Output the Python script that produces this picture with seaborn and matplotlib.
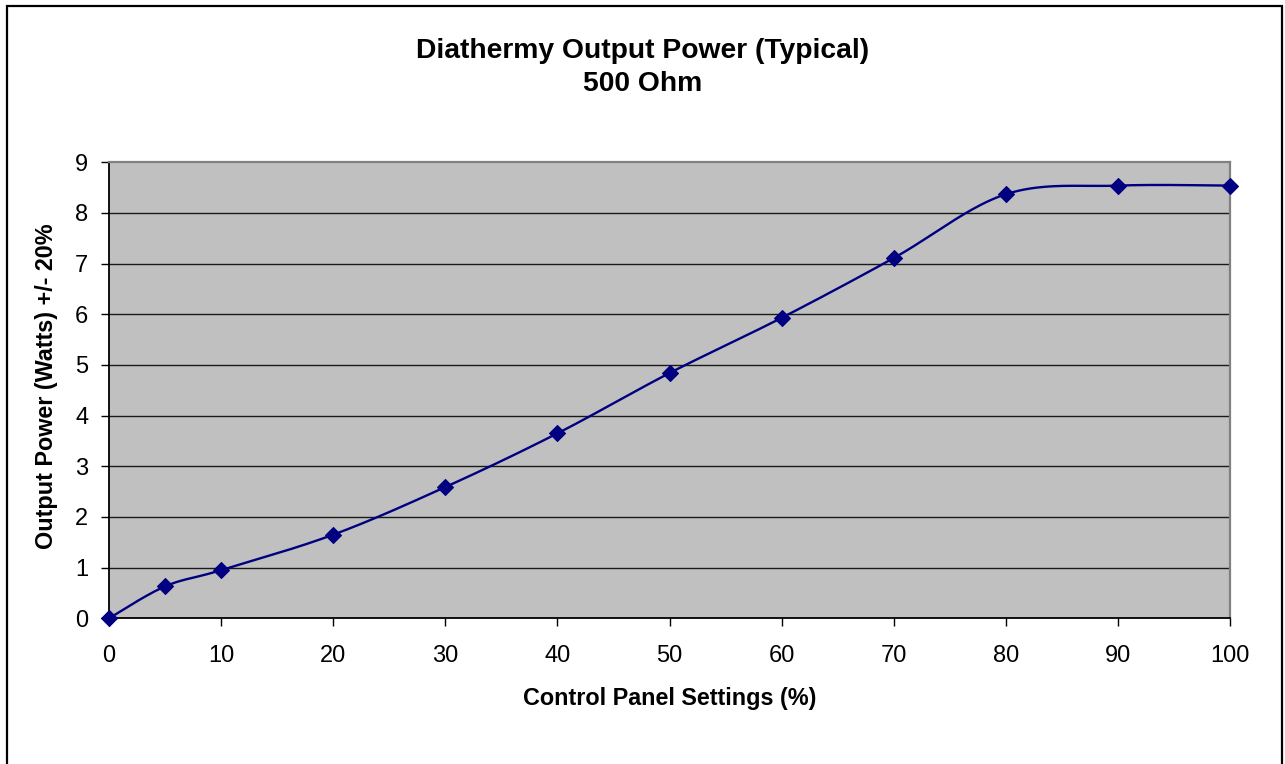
import numpy as np
import pandas as pd
import matplotlib
matplotlib.use("Agg")
import matplotlib.pyplot as plt
from matplotlib.patches import Rectangle
import seaborn as sns

# Control panel setting (%) and measured output power (W) into 500 Ohm
settings = [0, 5, 10, 20, 30, 40, 50, 60, 70, 80, 90, 100]
power_w = [0.0, 0.63, 0.95, 1.65, 2.59, 3.65, 4.84, 5.93, 7.11, 8.37, 8.54, 8.54]

x_ticks = [0, 10, 20, 30, 40, 50, 60, 70, 80, 90, 100]
y_ticks = [0, 1, 2, 3, 4, 5, 6, 7, 8, 9]

title_text = "Diathermy Output Power (Typical)\n500 Ohm"
x_label = "Control Panel Settings (%)"
y_label = "Output Power (Watts) +/- 20%"

NAVY = "#000080"
PLOT_BG = "#C0C0C0"


def smooth_curve(xs, ys, steps=40):
    """Cubic Bezier smoothing through every point (Catmull-Rom style tangents)."""
    p = np.column_stack([xs, ys]).astype(float)
    n = len(p)
    out = []
    for i in range(n - 1):
        p0 = p[i - 1] if i > 0 else p[i]
        p1 = p[i]
        p2 = p[i + 1]
        p3 = p[i + 2] if i + 2 < n else p[i + 1]
        c1 = p1 + (p2 - p0) / 6.0
        c2 = p2 - (p3 - p1) / 6.0
        t = np.linspace(0, 1, steps, endpoint=(i == n - 2))[:, None]
        seg = ((1 - t) ** 3) * p1 + 3 * ((1 - t) ** 2) * t * c1 \
            + 3 * (1 - t) * t ** 2 * c2 + t ** 3 * p2
        out.append(seg)
    pts = np.vstack(out)
    return pts[:, 0], pts[:, 1]


sns.set_theme(style="white")
plt.rcParams["font.family"] = ["Liberation Sans", "DejaVu Sans"]

fig = plt.figure(figsize=(12.85, 7.64), dpi=100)
ax = fig.add_axes([109 / 1285, 1 - 618.3 / 764, 1121 / 1285, 456 / 764])
ax.set_facecolor(PLOT_BG)

# outer chart frame
fig.patches.append(Rectangle((7 / 1285, -0.05), 1275 / 1285, 1.05 - 6 / 764,
                             transform=fig.transFigure, fill=False,
                             edgecolor="black", linewidth=1.6, clip_on=False))

data = pd.DataFrame({"setting": settings, "power": power_w})
cx, cy = smooth_curve(data["setting"].to_numpy(), data["power"].to_numpy())
curve = pd.DataFrame({"setting": cx, "power": cy})

for yv in y_ticks[1:-1]:
    ax.axhline(yv, color="#1a1a1a", linewidth=1.0, zorder=1)

sns.lineplot(data=curve, x="setting", y="power", ax=ax, color=NAVY,
             linewidth=1.7, sort=False, estimator=None, zorder=3)
sns.scatterplot(data=data, x="setting", y="power", ax=ax, marker="D",
                s=66, color=NAVY, edgecolor=NAVY, linewidth=0.8,
                zorder=4, clip_on=False)

ax.set_xlim(0, 100)
ax.set_ylim(0, 9)
ax.set_xticks(x_ticks)
ax.set_yticks(y_ticks)
ax.tick_params(axis="both", direction="out", length=6, width=1.0,
               color="black", labelsize=17, labelcolor="black")
ax.tick_params(axis="x", pad=13, bottom=True)
ax.tick_params(axis="y", pad=9, left=True)

for side in ("left", "bottom"):
    ax.spines[side].set_color("black")
    ax.spines[side].set_linewidth(1.3)
for side in ("top", "right"):
    ax.spines[side].set_visible(True)
    ax.spines[side].set_color("#808080")
    ax.spines[side].set_linewidth(1.6)

ax.set_xlabel(x_label, fontsize=16.8, fontweight="bold", color="black")
ax.set_ylabel(y_label, fontsize=16.8, fontweight="bold", color="black")
ax.xaxis.label.set(va="center")
ax.xaxis.set_label_coords(0.5, (618.3 - 698) / 456)
ax.yaxis.label.set(va="center", ha="center", rotation_mode="default")
ax.yaxis.set_label_coords((47 - 109) / 1121, (618.3 - 386) / 456)

ax.set_title(title_text, fontsize=20.3, fontweight="bold", color="black",
             linespacing=1.34, x=(643 - 109) / 1121, y=(618.3 - 105) / 456,
             va="bottom")

fig.savefig("out.png", dpi=100)
